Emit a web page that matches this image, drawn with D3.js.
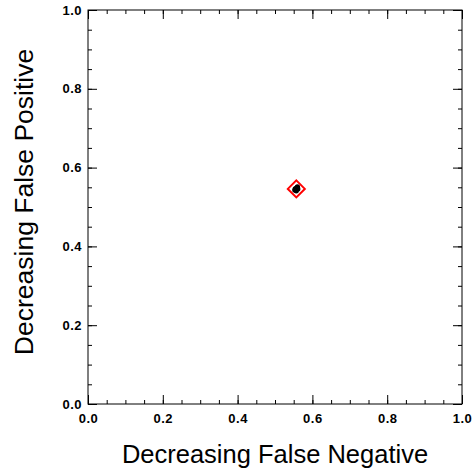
<!DOCTYPE html>
<html>
<head>
<meta charset="utf-8">
<script src="https://cdn.jsdelivr.net/npm/d3@7/dist/d3.min.js"></script>
<style>
  html, body { margin: 0; padding: 0; background: #fff; }
  svg { display: block; }
</style>
</head>
<body>
<svg id="chart" width="473" height="472"></svg>
<script>
// Cluster of evaluated points (x: decreasing false negative, y: decreasing false positive)
const pointX = [0.553, 0.556, 0.559, 0.561, 0.557, 0.554, 0.560];
const pointY = [0.543, 0.547, 0.549, 0.546, 0.541, 0.546, 0.551];
// Highlighted summary point
const markX = [0.557];
const markY = [0.546];
const majorTicks = [0, 0.2, 0.4, 0.6, 0.8, 1.0];
const minorTicks = d3.range(0, 1.0001, 0.05);
const xTitle = "Decreasing False Negative";
const yTitle = "Decreasing False Positive";

const svg = d3.select("#chart");
const plotL = 88, plotR = 462, plotT = 10, plotB = 404;

const x = d3.scaleLinear().domain([0, 1]).range([plotL, plotR]);
const y = d3.scaleLinear().domain([0, 1]).range([plotB, plotT]);

const fmt = d3.format(".1f");
const tickFont = "bold 13px 'Liberation Sans', Arial, sans-serif";

function axis(gen, tx, ty, showLabels) {
  const g = svg.append("g").attr("transform", `translate(${tx},${ty})`);
  g.call(gen.tickValues(minorTicks).tickSize(4).tickFormat(""));
  g.select(".domain").remove();
  const g2 = svg.append("g").attr("transform", `translate(${tx},${ty})`);
  g2.call(gen.tickValues(majorTicks).tickSize(9).tickFormat(showLabels ? fmt : ""));
  g2.select(".domain").remove();
  g2.selectAll("text").style("font", tickFont).style("letter-spacing", "0.5px").attr("fill", "#000");
  [g, g2].forEach(s => s.selectAll("line").attr("stroke", "#000").attr("stroke-width", 1));
  return g2;
}

// Ticks point inward on all four sides
const bx = axis(d3.axisTop(x), 0, plotB, true);
bx.selectAll("text").attr("y", 19).attr("dy", 0);
axis(d3.axisBottom(x), 0, plotT, false);
const ly = axis(d3.axisRight(y), plotL, 0, true);
ly.selectAll("text").attr("x", -6).attr("text-anchor", "end");
axis(d3.axisLeft(y), plotR, 0, false);

// Frame
svg.append("rect")
  .attr("x", plotL).attr("y", plotT)
  .attr("width", plotR - plotL).attr("height", plotB - plotT)
  .attr("fill", "none").attr("stroke", "#000").attr("stroke-width", 1);

// Points
svg.append("g").selectAll("circle")
  .data(pointX.map((d, i) => [d, pointY[i]]))
  .join("circle")
  .attr("cx", d => x(d[0])).attr("cy", d => y(d[1]))
  .attr("r", 2.6).attr("fill", "#000");

// Diamond marker
const dsize = 8.5;
svg.append("g").selectAll("path")
  .data(markX.map((d, i) => [d, markY[i]]))
  .join("path")
  .attr("d", d => {
    const cx = x(d[0]), cy = y(d[1]);
    return `M${cx},${cy - dsize}L${cx + dsize},${cy}L${cx},${cy + dsize}L${cx - dsize},${cy}Z`;
  })
  .attr("fill", "none").attr("stroke", "#ff0000").attr("stroke-width", 2);

// Axis titles
svg.append("text")
  .attr("x", 275).attr("y", 463)
  .attr("text-anchor", "middle")
  .style("font", "25.5px 'Liberation Sans', Arial, sans-serif").text(xTitle);
svg.append("text")
  .attr("transform", `translate(33,202) rotate(-90)`)
  .attr("text-anchor", "middle")
  .style("font", "26.5px 'Liberation Sans', Arial, sans-serif").text(yTitle);
</script>
</body>
</html>
